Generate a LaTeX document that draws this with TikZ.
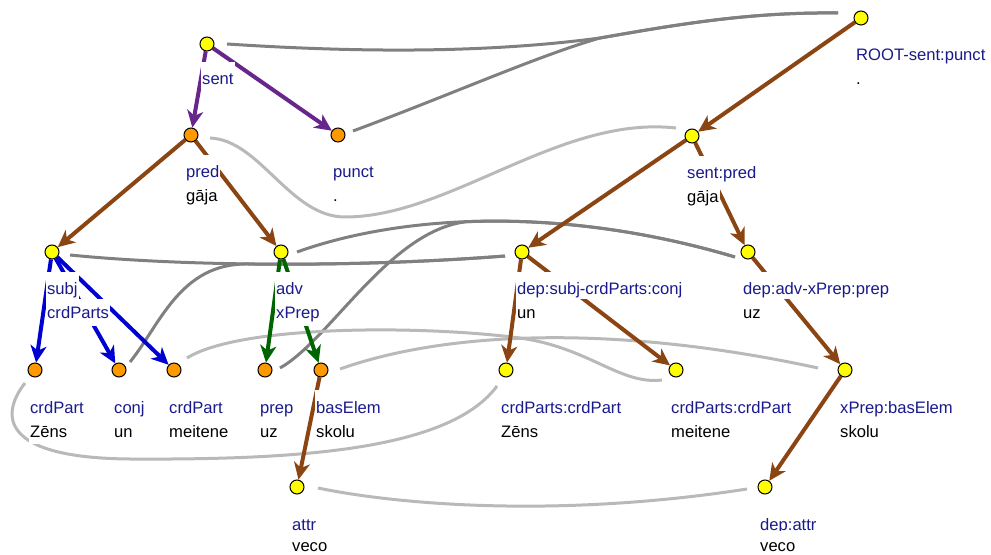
\documentclass[tikz,border=0pt]{standalone}
\usepackage{fontspec}
\setmainfont{Liberation Sans}
\usetikzlibrary{arrows.meta,calc}
\definecolor{lblue}{RGB}{26,26,140}
\definecolor{ebrown}{RGB}{139,69,19}
\definecolor{epurple}{RGB}{102,38,140}
\definecolor{eblue}{RGB}{0,0,210}
\definecolor{egreen}{RGB}{0,100,0}
\definecolor{dgray}{RGB}{128,128,128}
\definecolor{lgray}{RGB}{185,185,185}
\definecolor{norange}{RGB}{255,153,0}
\definecolor{nyellow}{RGB}{255,255,0}
\newcommand{\labfont}{\fontsize{16.6bp}{20bp}\selectfont}
\newcommand{\pd}{\hspace{8bp}}
\pgfdeclarelayer{edgelayer}
\pgfdeclarelayer{labellayer}
\pgfsetlayers{edgelayer,labellayer,main}
\tikzset{
  yn/.style={circle, draw=black, line width=1bp, fill=nyellow, minimum size=14bp, inner sep=0pt},
  on/.style={yn, fill=norange},
  lt/.style={anchor=base west, fill=white, inner xsep=1bp, inner ysep=0pt, text height=23bp, text depth=4bp, font=\labfont, text=lblue},
  wt/.style={lt, text height=20bp, text depth=7bp, text=black},
  bt/.style={wt, text=lblue},
  depedge/.style={line width=4bp, -{Stealth[length=17bp,width=16bp,inset=5bp]}},
  hl/.style={line width=3bp, dgray},
  ll/.style={line width=3bp, lgray},
}
\newcommand{\lab}[4][67]{\node[lt] (#2a) at ($(#2)+(-6,43)$) {#3\pd};
  \node[wt] (#2b) at ($(#2)+(-6,#1)$) {#4\pd};}
\newcommand{\labb}[3]{\node[lt] (#1a) at ($(#1)+(-6,43)$) {#2\pd};
  \node[bt] (#1b) at ($(#1)+(-6,67)$) {#3\pd};}
\begin{document}
\begin{tikzpicture}[x=1bp,y=-1bp]
\useasboundingbox (0,0) rectangle (991,555);
% nodes (left tree)
\node[yn] (sentL) at (207,44) {};
\node[on] (predL) at (191,135) {};
\node[on] (punctL) at (338,135) {};
\node[yn] (subjL) at (52,252) {};
\node[yn] (advL) at (281,252) {};
\node[on] (cpaL) at (35,370) {};
\node[on] (conjL) at (119,370) {};
\node[on] (cpbL) at (174,370) {};
\node[on] (prepL) at (265,370) {};
\node[on] (baseL) at (321,370) {};
\node[yn] (attrL) at (297,487) {};
% nodes (right tree)
\node[yn] (rootR) at (861,18) {};
\node[yn] (predR) at (692,136) {};
\node[yn] (conjR) at (522,252) {};
\node[yn] (prepR) at (748,252) {};
\node[yn] (cpaR) at (506,370) {};
\node[yn] (cpbR) at (676,370) {};
\node[yn] (baseR) at (845,370) {};
\node[yn] (attrR) at (765,487) {};

\begin{pgfonlayer}{edgelayer}
% alignment curves
\draw[hl] ($(sentL)+(20,0)$) .. controls (350,52) and (480,54) .. (600,38)
  .. controls (680,24) and (750,12) .. ($(rootR)+(-23,-5)$);
\draw[hl] ($(punctL)+(15,-4)$) .. controls (450,95) and (540,55) .. (600,38)
  .. controls (680,24) and (750,12) .. ($(rootR)+(-23,-5)$);
\draw[ll] ($(predL)+(19,3)$) .. controls (260,140) and (290,217) .. (345,217)
  .. controls (450,217) and (560,115) .. ($(predR)+(-16,-8)$);
\draw[hl] ($(subjL)+(18,3)$) .. controls (180,266) and (350,268) .. ($(conjR)+(-17,4)$);
\draw[hl] ($(conjL)+(11,-8)$) .. controls (160,325) and (180,263) .. (248,264)
  .. controls (330,265) and (420,262.6) .. ($(conjR)+(-17,4)$);
\draw[hl] ($(advL)+(16,0)$) .. controls (400,215) and (560,205) .. ($(prepR)+(-13,5)$);
\draw[hl] ($(prepL)+(15,-2)$) .. controls (330,340) and (390,230) .. (466.8,221.7)
  .. controls (547,218.6) and (638.75,228.4) .. ($(prepR)+(-13,5)$);
\draw[ll] ($(cpaL)+(-10,13)$) .. controls (0,415) and (0,458) .. (130,459)
  .. controls (300,460) and (450,450) .. ($(cpaR)+(-9,16)$);
\draw[ll] ($(cpbL)+(13,-12)$) .. controls (240,325) and (420,325) .. (520,338)
  .. controls (590,348) and (620,385) .. ($(cpbR)+(-14,10)$);
\draw[ll] ($(baseL)+(19,-1)$) .. controls (450,330) and (620,325) .. ($(baseR)+(-27,-2)$);
\draw[ll] ($(attrL)+(21,1)$) .. controls (400,505) and (560,518) .. ($(attrR)+(-18,2)$);
% dependency edges
\draw[depedge, epurple] (sentL) -- (predL);
\draw[depedge, epurple] (sentL) -- (punctL);
\draw[depedge, ebrown] (predL) -- (subjL);
\draw[depedge, ebrown] (predL) -- (advL);
\draw[depedge, eblue] (subjL) -- (cpaL);
\draw[depedge, eblue] (subjL) -- (conjL);
\draw[depedge, eblue] (subjL) -- (cpbL);
\draw[depedge, egreen] (advL) -- (prepL);
\draw[depedge, egreen] (advL) -- (baseL);
\draw[depedge, ebrown] (baseL) -- (attrL);
\draw[depedge, ebrown] (rootR) -- (predR);
\draw[depedge, ebrown] (predR) -- (conjR);
\draw[depedge, ebrown] (predR) -- (prepR);
\draw[depedge, ebrown] (conjR) -- (cpaR);
\draw[depedge, ebrown] (conjR) -- (cpbR);
\draw[depedge, ebrown] (prepR) -- (baseR);
\draw[depedge, ebrown] (baseR) -- (attrR);
\end{pgfonlayer}

\begin{pgfonlayer}{labellayer}
\node[lt] (sentLa) at ($(sentL)+(-6,41)$) {sent\pd};
\lab{predL}{pred}{gāja}
\lab{punctL}{punct}{.}
\labb{subjL}{subj}{crdParts}
\labb{advL}{adv}{xPrep}
\lab{cpaL}{crdPart}{Zēns}
\lab{conjL}{conj}{un}
\lab{cpbL}{crdPart}{meitene}
\lab{prepL}{prep}{uz}
\lab{baseL}{basElem}{skolu}
\lab[64]{attrL}{attr}{veco}
\lab{rootR}{ROOT-sent:punct}{.}
\lab{predR}{sent:pred}{gāja}
\lab{conjR}{dep:subj-crdParts:conj}{un}
\lab{prepR}{dep:adv-xPrep:prep}{uz}
\lab{cpaR}{crdParts:crdPart}{Zēns}
\lab{cpbR}{crdParts:crdPart}{meitene}
\lab{baseR}{xPrep:basElem}{skolu}
\lab[64]{attrR}{dep:attr}{veco}
\end{pgfonlayer}
\end{tikzpicture}
\end{document}
